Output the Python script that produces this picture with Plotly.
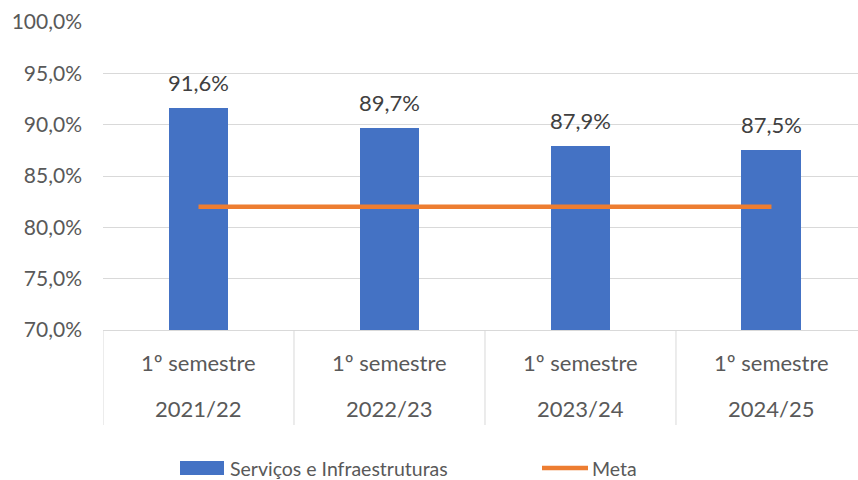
import plotly.graph_objects as go

semesters = ["1º semestre", "1º semestre", "1º semestre", "1º semestre"]
years = ["2021/22", "2022/23", "2023/24", "2024/25"]
servicos = [91.6, 89.7, 87.9, 87.5]
meta = [82, 82, 82, 82]
y_ticks = [70, 75, 80, 85, 90, 95, 100]
y_tick_labels = [f"{v:.1f}".replace(".", ",") + "%" for v in y_ticks]
series_names = ["Serviços e Infraestruturas", "Meta"]
colors = ["#4472C4", "#ED7D31"]

FONT = "Lato"
TXT = "#595959"
GRID = "#D9D9D9"

L, T, PW, PH = 103, 22, 755, 308  # plot area in px


def px_x(p):
    return (p - L) / PW


def px_y(p):
    return (T + PH - p) / PH


xs = list(range(len(years)))

fig = go.Figure()
fig.add_trace(go.Bar(
    x=xs, y=servicos, name=series_names[0],
    marker=dict(color=colors[0], line=dict(width=0)), width=0.314,
    showlegend=False,
))
fig.add_trace(go.Scatter(
    x=xs, y=meta, name=series_names[1], mode="lines",
    line=dict(color=colors[1], width=4.5), showlegend=False,
))

annotations = []
for x, v in zip(xs, servicos):
    annotations.append(dict(
        x=x, y=v, xref="x", yref="y", text=f"{v:.1f}".replace(".", ",") + "%",
        showarrow=False, yanchor="bottom", yshift=10,
        font=dict(family=FONT, size=22, color="#404040"),
    ))
for x, s, yr in zip(xs, semesters, years):
    annotations.append(dict(x=x, y=px_y(362), xref="x", yref="paper", text=s,
                            showarrow=False, yanchor="middle",
                            font=dict(family=FONT, size=22, color=TXT)))
    annotations.append(dict(x=x, y=px_y(408), xref="x", yref="paper", text=yr,
                            showarrow=False, yanchor="middle",
                            font=dict(family=FONT, size=22, color=TXT)))

shapes = []
for i in range(len(years) + 1):
    shapes.append(dict(type="line", xref="x", yref="paper",
                       x0=i - 0.5, x1=i - 0.5, y0=0, y1=px_y(425),
                       line=dict(color=GRID, width=1)))

# legend (drawn manually to match the original's symbol sizes)
shapes.append(dict(type="rect", xref="paper", yref="paper",
                   x0=px_x(180), x1=px_x(224), y0=px_y(475), y1=px_y(461),
                   fillcolor=colors[0], line=dict(width=0)))
annotations.append(dict(x=px_x(228), y=px_y(468), xref="paper", yref="paper",
                        text=series_names[0], showarrow=False,
                        xanchor="left", yanchor="middle",
                        font=dict(family=FONT, size=19.5, color=TXT)))
shapes.append(dict(type="line", xref="paper", yref="paper",
                   x0=px_x(542), x1=px_x(588), y0=px_y(468), y1=px_y(468),
                   line=dict(color=colors[1], width=4.5)))
annotations.append(dict(x=px_x(590), y=px_y(468), xref="paper", yref="paper",
                        text=series_names[1], showarrow=False,
                        xanchor="left", yanchor="middle",
                        font=dict(family=FONT, size=19.5, color=TXT)))

fig.update_layout(
    width=858, height=480,
    margin=dict(l=L, r=858 - L - PW, t=T, b=480 - T - PH, autoexpand=False),
    paper_bgcolor="white", plot_bgcolor="white",
    separators=",.",
    font=dict(family=FONT, size=22, color=TXT),
    xaxis=dict(range=[-0.5, 3.453], showticklabels=False, ticks="",
               showgrid=False, zeroline=False, showline=True,
               linecolor=GRID, linewidth=1),
    yaxis=dict(range=[70, 100], tickvals=y_ticks, ticktext=y_tick_labels,
               showgrid=True, gridcolor=GRID, gridwidth=1,
               zeroline=False, showline=False, ticks="",
               ticklabelstandoff=20,
               tickfont=dict(family=FONT, size=21, color=TXT)),
    showlegend=False,
    annotations=annotations,
    shapes=shapes,
    bargap=0,
)

fig.write_html(
    "out.html",
    config={"displayModeBar": False},
    post_script="document.body.style.margin='0';document.body.style.overflow='hidden';",
)
